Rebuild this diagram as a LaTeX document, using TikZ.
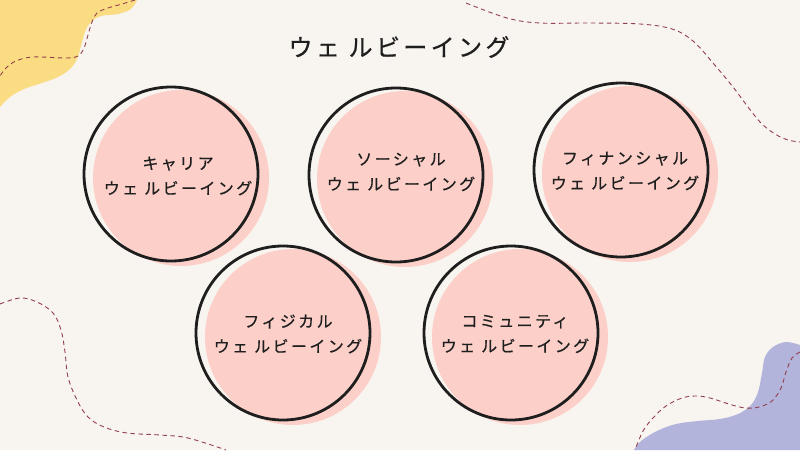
\documentclass[tikz,border=0pt]{standalone}
\usepackage{fontspec}
\newfontfamily\jp[FakeBold=0.6,LetterSpace=15]{Noto Sans CJK JP}
\newfontfamily\jptitle[FakeBold=0.7,LetterSpace=14]{Noto Sans CJK JP}
\begin{document}
\begin{tikzpicture}[x=1pt,y=-1pt,
  ring/.style={circle,draw=inkc,line width=2.8pt,minimum size=174pt,inner sep=0pt},
  disc/.style={circle,fill=pinkc,minimum size=176pt,inner sep=0pt},
  label/.style={font=\jp\fontsize{16}{25}\selectfont,text=inkc,align=center},
  trail/.style={draw=dashc,line width=0.9pt,dash pattern=on 4.5pt off 3.5pt}]
\definecolor{bgc}{HTML}{F8F4EF}
\definecolor{pinkc}{HTML}{FCD0C9}
\definecolor{inkc}{HTML}{1E1E1E}
\definecolor{yellowc}{HTML}{FADC82}
\definecolor{purplec}{HTML}{B2B4DC}
\definecolor{dashc}{HTML}{94404E}
\fill[bgc] (0,0) rectangle (800,450);
\useasboundingbox (0,0) rectangle (800,450);
% yellow blob
\fill[yellowc] (0,0) -- plot[smooth,tension=0.6] coordinates {(137,0) (131,9) (118,14) (101,16) (91,22) (85,32) (81,46) (77,59) (70,69) (58,77) (42,83) (24,89) (10,97) (0,107)} -- cycle;
% purple blob
\fill[purplec] (800,450) -- plot[smooth,tension=0.6] coordinates {(800,345) (786,342) (773,347) (765,357) (762,373) (758,392) (751,405) (738,414) (720,419) (698,421) (676,424) (657,431) (641,441) (634,450)} -- cycle;
% dashed trails
\draw[trail] plot[smooth,tension=0.6] coordinates {(135,0) (122,4) (108,8) (97,13) (92,22) (88,35) (84,48) (78,56) (66,58) (33,57) (16,61) (6,68) (0,76)};
\draw[trail] plot[smooth,tension=0.6] coordinates {(466,3) (507,18) (540,23) (590,23) (640,24) (672,29) (693,41) (713,63) (733,87) (748,107) (761,123) (775,134) (788,140) (800,142)};
\draw[trail] plot[smooth,tension=0.6] coordinates {(0,304) (20,298) (37,302) (53,313) (61,330) (65,352) (68,377) (77,400) (88,417) (104,427) (127,433) (160,435) (188,438) (226,450)};
\draw[trail] plot[smooth,tension=0.6] coordinates {(800,352) (792,358) (786,372) (781,388) (772,401) (759,407) (746,408) (732,405) (710,398) (696,396) (682,398) (666,406) (653,418) (643,431) (635,450)};
% title
\node[font=\jptitle\fontsize{24}{30}\selectfont,text=inkc] (title) at (399,47) {ウェ ルビーイング};
% circles
\node[disc] (p1) at (181,178) {};
\node[disc] (p2) at (405,179) {};
\node[disc] (p3) at (630,174) {};
\node[disc] (p4) at (293,337) {};
\node[disc] (p5) at (520,337) {};
\node[ring] (c1) at (171,174) {};
\node[ring] (c2) at (396,175) {};
\node[ring] (c3) at (621,170) {};
\node[ring] (c4) at (283,333) {};
\node[ring] (c5) at (511,333) {};
\node[label] (t1) at (178,176) {キャリア\\ウェ ルビーイング};
\node[label] (t2) at (401,172) {ソーシャル\\ウェ ルビーイング};
\node[label] (t3) at (625,171) {フィナンシャル\\ウェ ルビーイング};
\node[label] (t4) at (288,334) {フィジカル\\ウェ ルビーイング};
\node[label] (t5) at (515,334) {コミュニティ\\ウェ ルビーイング};
\end{tikzpicture}
\end{document}
